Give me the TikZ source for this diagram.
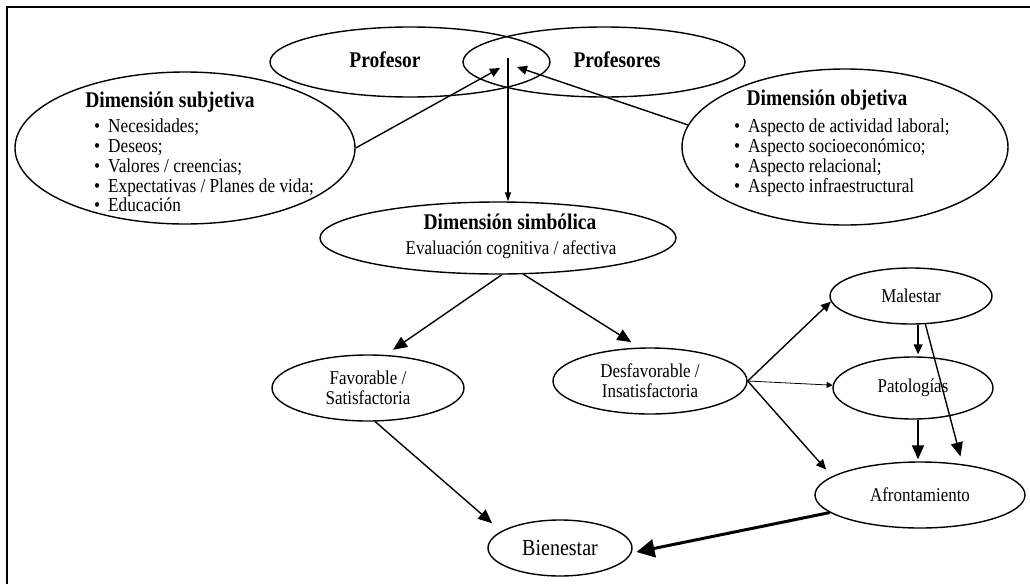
\documentclass[tikz,border=0pt]{standalone}
\usepackage{fontspec}
\setmainfont{Liberation Serif}[FakeStretch=0.87]
\usetikzlibrary{shapes.geometric,arrows.meta}

\tikzset{
  elli/.style={draw, ellipse, line width=1.4pt, inner sep=0pt},
  txt/.style={font=\fontsize{19.5}{20}\selectfont, align=center, inner sep=0pt},
  ttl/.style={font=\fontsize{22.4}{22}\selectfont\bfseries, inner sep=0pt},
  lst/.style={font=\fontsize{19.8}{19.7}\selectfont, align=left, anchor=north west, inner sep=0pt},
  con/.style={line width=1.4pt, -{Triangle[length=14pt,width=12pt]}},
  conS/.style={line width=1.4pt, -{Triangle[length=10pt,width=9pt]}},
  conT/.style={line width=0.8pt, -{Triangle[length=6pt,width=6pt]}}
}

\begin{document}
\begin{tikzpicture}[x=1pt,y=-1pt]
  \useasboundingbox (0,0) rectangle (1030,584);
  \draw[line width=2pt] (7,584) -- (7,7) -- (1030,7);

  % top: the two teachers
  \node[elli, minimum width=280pt, minimum height=70pt] (prof) at (410,62) {};
  \node[elli, minimum width=282pt, minimum height=70pt] (profs) at (604,62) {};
  \node[ttl] (profT) at (385,60) {Profesor};
  \node[ttl] (profsT) at (617,60) {Profesores};
  \coordinate (lensL) at (500,68);
  \coordinate (lensR) at (517,67);
  \coordinate (lensTop) at (508,58);

  % subjective / objective
  \node[elli, minimum width=340pt, minimum height=152pt] (subj) at (185,148) {};
  \node[ttl] (subjT) at (170,102) {Dimensión subjetiva};
  \node[lst] (subjL) at (94,119) {\textbullet\hspace{8pt}Necesidades;\\
    \textbullet\hspace{8pt}Deseos;\\
    \textbullet\hspace{8pt}Valores / creencias;\\
    \textbullet\hspace{8pt}Expectativas / Planes de vida;\\
    \textbullet\hspace{8pt}Educación};

  \node[elli, minimum width=326pt, minimum height=156pt] (obj) at (845,147) {};
  \node[ttl] (objT) at (827,100) {Dimensión objetiva};
  \node[lst] (objL) at (734,119) {\textbullet\hspace{8pt}Aspecto de actividad laboral;\\
    \textbullet\hspace{8pt}Aspecto socioeconómico;\\
    \textbullet\hspace{8pt}Aspecto relacional;\\
    \textbullet\hspace{8pt}Aspecto infraestructural};

  % symbolic
  \node[elli, minimum width=356pt, minimum height=72pt] (simb) at (498,238) {};
  \node[ttl] (simbT) at (510,222) {Dimensión simbólica};
  \node[txt] (simbS) at (511,250) {Evaluación cognitiva / afectiva};

  % outcomes
  \node[elli, txt, minimum width=192pt, minimum height=66pt] (fav) at (368,388) {Favorable /\\Satisfactoria};
  \node[elli, txt, minimum width=194pt, minimum height=66pt] (desf) at (650,381) {Desfavorable /\\Insatisfactoria};
  \node[elli, txt, font=\fontsize{23}{22}\selectfont, minimum width=144pt, minimum height=56pt] (bien) at (560,548) {Bienestar};
  \node[elli, txt, minimum width=162pt, minimum height=56pt] (mal) at (911,296) {Malestar};
  \node[elli, txt, minimum width=160pt, minimum height=62pt] (pat) at (913,388) {Patologías};
  \node[elli, txt, minimum width=210pt, minimum height=66pt] (afr) at (920,495) {Afrontamiento};

  \draw[conS] (subj.east) -- (lensL);
  \draw[conS] (obj.172) -- (lensR);
  \draw[line width=1.2pt, -{Triangle[length=9pt,width=6pt]}] (lensTop) -- (lensTop |- simb.north);

  \draw[con] (simb.-84) -- (fav.62) [shorten >=9pt];
  \draw[con] (simb.-55) -- (desf.107) [shorten >=10pt];
  \draw[con] (fav.-78) -- (bien.164) [shorten >=12pt];

  \draw[conS] (desf.east) -- (mal.-176);
  \draw[conT] (desf.east) -- (pat.178);
  \draw[conS] (desf.east) -- (afr.168) [shorten >=9pt];

  \draw[conS] (mal.-76) -- (mal.-76 |- pat.north) [shorten >=2pt];
  \draw[con] (mal.-63) -- (afr.36) [shorten >=8pt];
  \draw[con] (pat.-81) -- (pat.-81 |- afr.north) [shorten >=2pt];

  \draw[line width=3pt, -{Triangle[length=18pt,width=18pt]}] (afr.-169) -- (bien.-4) [shorten >=5pt];
\end{tikzpicture}
\end{document}
